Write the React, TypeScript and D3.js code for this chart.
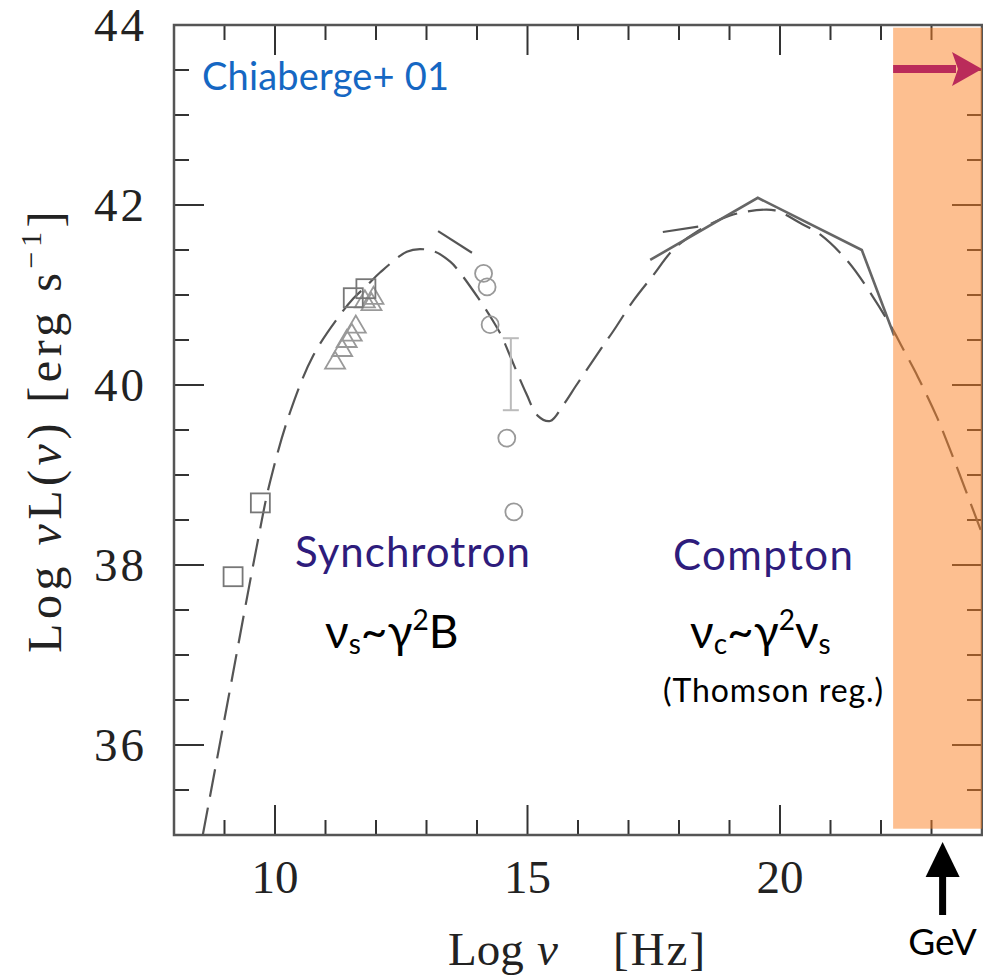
import * as d3 from "d3";

// chart box
const width = 983;
const height = 975;
const marginTop = 25;
const marginRight = 1;
const marginBottom = 140;
const marginLeft = 174;

// dashed model curve (log nu, log nuL)
const modelNu = [8.57, 9.07, 9.64, 9.9, 10.3, 10.76, 11.29, 11.55, 11.81, 12.08, 12.61, 12.87, 13.17, 13.47, 13.62, 14.02, 14.33, 14.49, 14.65, 14.98, 15.2, 15.45, 15.71, 15.97, 16.44, 16.7, 17.1, 17.49, 17.88, 18.4, 19.0, 19.5, 19.9, 20.4, 20.8, 21.35, 21.84, 22.24, 22.42, 22.73, 23.11, 23.37, 24.0];
const modelL = [35.0, 36.5, 38.21, 38.92, 39.7, 40.33, 40.78, 40.96, 41.1, 41.25, 41.48, 41.51, 41.48, 41.37, 41.28, 40.97, 40.7, 40.54, 40.33, 39.9, 39.66, 39.6, 39.78, 40.0, 40.39, 40.6, 40.94, 41.22, 41.5, 41.72, 41.88, 41.94, 41.94, 41.8, 41.67, 41.37, 40.98, 40.61, 40.42, 40.09, 39.64, 39.28, 38.35];

// second model, only short pieces visible
const model2Nu = [[13.23, 13.9], [17.68, 18.38]];
const model2L = [[41.71, 41.47], [41.7, 41.76]];

// solid high energy spectrum
const solidNu = [17.43, 19.56, 21.62, 22.26];
const solidL = [41.39, 42.08, 41.5, 40.55];

// data points
const squareNu = [9.17, 9.71, 11.55, 11.8];
const squareL = [37.87, 38.69, 40.97, 41.07];
const triNu = [11.19, 11.33, 11.42, 11.52, 11.6, 11.78, 11.91, 11.95];
const triL = [40.26, 40.4, 40.5, 40.57, 40.66, 40.94, 40.91, 40.98];
const circNu = [14.13, 14.2, 14.26, 14.59, 14.73];
const circL = [41.24, 41.09, 40.67, 39.41, 38.59];
const errNu = [14.67];
const errLo = [39.72];
const errHi = [40.52];

// axes
const xTicks = d3.range(8, 24.01, 1);
const xMajor = [10, 15, 20];
const yTicks = d3.range(35, 44.01, 0.5);
const yMajor = [36, 38, 40, 42, 44];

// annotations (data units)
const gevBand = [22.24, 24];
const gevBandL = [35.07, 43.97];
const gevNu = 23.22;
const arrowL = 43.51;

const x = d3.scaleLinear().domain([8, 24]).range([marginLeft, width - marginRight]);
const y = d3.scaleLinear().domain([35, 44]).range([height - marginBottom, marginTop]);

const line = d3
  .line<[number, number]>()
  .x((d) => x(d[0]))
  .y((d) => y(d[1]))
  .curve(d3.curveCatmullRom.alpha(0.5));

const straight = d3
  .line<[number, number]>()
  .x((d) => x(d[0]))
  .y((d) => y(d[1]));

const serif = "'Liberation Serif', 'Times New Roman', serif";
const sans = "Lato, 'Open Sans', sans-serif";

const App = () => {
  const model: [number, number][] = modelNu.map((n, i) => [n, modelL[i]]);
  const solid: [number, number][] = solidNu.map((n, i) => [n, solidL[i]]);
  const x0 = x(8);
  const x1 = x(24);
  const y0 = y(35);
  const y1 = y(44);
  const bx0 = x(gevBand[0]);
  const bx1 = x(gevBand[1]);
  const ay = y(arrowL);
  const gx = x(gevNu);

  return (
    <div style={{ position: "absolute", left: 0, top: 0 }}>
      <svg width={width} height={height} style={{ display: "block", background: "#fff" }}>
        {/* ticks, all pointing inward */}
        <g stroke="#333" strokeWidth={2}>
          {xTicks.map((t) => {
            const len = xMajor.includes(t) ? 30 : 15;
            return (
              <g key={"xt" + t}>
                <line x1={x(t)} x2={x(t)} y1={y0} y2={y0 - len} />
                <line x1={x(t)} x2={x(t)} y1={y1} y2={y1 + len} />
              </g>
            );
          })}
          {yTicks.map((t) => {
            const len = yMajor.includes(t) ? 30 : 15;
            return (
              <g key={"yt" + t}>
                <line x1={x0} x2={x0 + len} y1={y(t)} y2={y(t)} />
                <line x1={x1} x2={x1 - len} y1={y(t)} y2={y(t)} />
              </g>
            );
          })}
        </g>
        <rect x={x0} y={y1} width={x1 - x0} height={y0 - y1} fill="none" stroke="#555" strokeWidth={2.5} />

        {/* tick labels */}
        <g fontFamily={serif} fontSize={47} fill="#222">
          {xMajor.map((t) => (
            <text key={"xl" + t} x={x(t)} y={y0 + 58} textAnchor="middle">
              {t}
            </text>
          ))}
          {yMajor.map((t) => (
            <text key={"yl" + t} x={147} y={y(t)} dy="0.34em" textAnchor="end" letterSpacing={3}>
              {t}
            </text>
          ))}
        </g>

        {/* axis titles */}
        <g fontFamily={serif} fontSize={47} fill="#222">
          <text x={448} y={965}>Log</text>
          <text x={537} y={965} fontStyle="italic">ν</text>
          <text x={613} y={965} letterSpacing={2}>[Hz]</text>
          <text transform="translate(61,430) rotate(-90)" textAnchor="middle" fontSize={48} letterSpacing={4.5}>
            Log <tspan fontStyle="italic">ν</tspan>L(<tspan fontStyle="italic">ν</tspan>) [erg s
            <tspan fontSize={30} dy={-20}>−1</tspan>
            <tspan dy={20}>]</tspan>
          </text>
        </g>

        {/* model curves */}
        <path d={line(model) ?? ""} fill="none" stroke="#555" strokeWidth={2.2} strokeDasharray="28,11" />
        {model2Nu.map((seg, i) => (
          <path
            key={"m2" + i}
            d={straight(seg.map((n, j) => [n, model2L[i][j]] as [number, number])) ?? ""}
            fill="none"
            stroke="#555"
            strokeWidth={2.2}
          />
        ))}
        <path d={straight(solid) ?? ""} fill="none" stroke="#666" strokeWidth={2.6} />

        {/* data points */}
        <g fill="none" stroke="#bbb" strokeWidth={2}>
          {errNu.map((n, i) => (
            <g key={"e" + i}>
              <line x1={x(n)} x2={x(n)} y1={y(errLo[i])} y2={y(errHi[i])} />
              <line x1={x(n) - 8} x2={x(n) + 8} y1={y(errLo[i])} y2={y(errLo[i])} />
              <line x1={x(n) - 8} x2={x(n) + 8} y1={y(errHi[i])} y2={y(errHi[i])} />
            </g>
          ))}
        </g>
        <g fill="none" stroke="#999" strokeWidth={1.8}>
          {triNu.map((n, i) => {
            const cx = x(n);
            const cy = y(triL[i]);
            return <path key={"t" + i} d={`M${cx - 10},${cy + 7}L${cx + 10},${cy + 7}L${cx},${cy - 10}Z`} />;
          })}
          {circNu.map((n, i) => (
            <circle key={"c" + i} cx={x(n)} cy={y(circL[i])} r={8.5} />
          ))}
        </g>
        <g fill="none" stroke="#777" strokeWidth={1.8}>
          {squareNu.map((n, i) => (
            <rect key={"s" + i} x={x(n) - 9.5} y={y(squareL[i]) - 9.5} width={19} height={19} />
          ))}
        </g>

        {/* GeV band */}
        <rect x={bx0} y={y(gevBandL[1])} width={bx1 - bx0} height={y(gevBandL[0]) - y(gevBandL[1])} fill="#fb7f21" fillOpacity={0.5} />
        <line x1={bx0} x2={x1 - 26} y1={ay} y2={ay} stroke="#ba2b5a" strokeWidth={8} />
        <path d={`M${x1 - 30},${ay - 17}L${x1},${ay}L${x1 - 30},${ay + 17}L${x1 - 24},${ay}Z`} fill="#ba2b5a" />

        {/* GeV arrow */}
        <line x1={gx} x2={gx} y1={915} y2={870} stroke="#000" strokeWidth={7} />
        <path d={`M${gx},842L${gx + 17},877L${gx - 17},877Z`} fill="#000" />
        <text x={gx} y={955} textAnchor="middle" fontFamily={sans} fontSize={37} fill="#000">
          GeV
        </text>

        {/* labels */}
        <text x={202} y={90} fontFamily={sans} fontSize={38} fill="#1567c3" textLength={247}>
          Chiaberge+ 01
        </text>
        <text x={295} y={567} fontFamily={sans} fontSize={42} fill="#2e1c7c" textLength={235}>
          Synchrotron
        </text>
        <text x={673} y={570} fontFamily={sans} fontSize={42} fill="#2e1c7c" textLength={180}>
          Compton
        </text>
        <text x={325} y={648} fontFamily={sans} fontSize={46} fill="#000">
          ν<tspan fontSize={28} dy={6}>s</tspan>
          <tspan dy={-6}>~γ</tspan>
          <tspan fontSize={28} dy={-18}>2</tspan>
          <tspan dy={18}>B</tspan>
        </text>
        <text x={690} y={648} fontFamily={sans} fontSize={46} fill="#000">
          ν<tspan fontSize={28} dy={6}>c</tspan>
          <tspan dy={-6}>~γ</tspan>
          <tspan fontSize={28} dy={-18}>2</tspan>
          <tspan dy={18}>ν</tspan>
          <tspan fontSize={28} dy={6}>s</tspan>
        </text>
        <text x={663} y={702} fontFamily={sans} fontSize={32} fill="#000" textLength={220}>
          (Thomson reg.)
        </text>
      </svg>
    </div>
  );
};

export default App;
